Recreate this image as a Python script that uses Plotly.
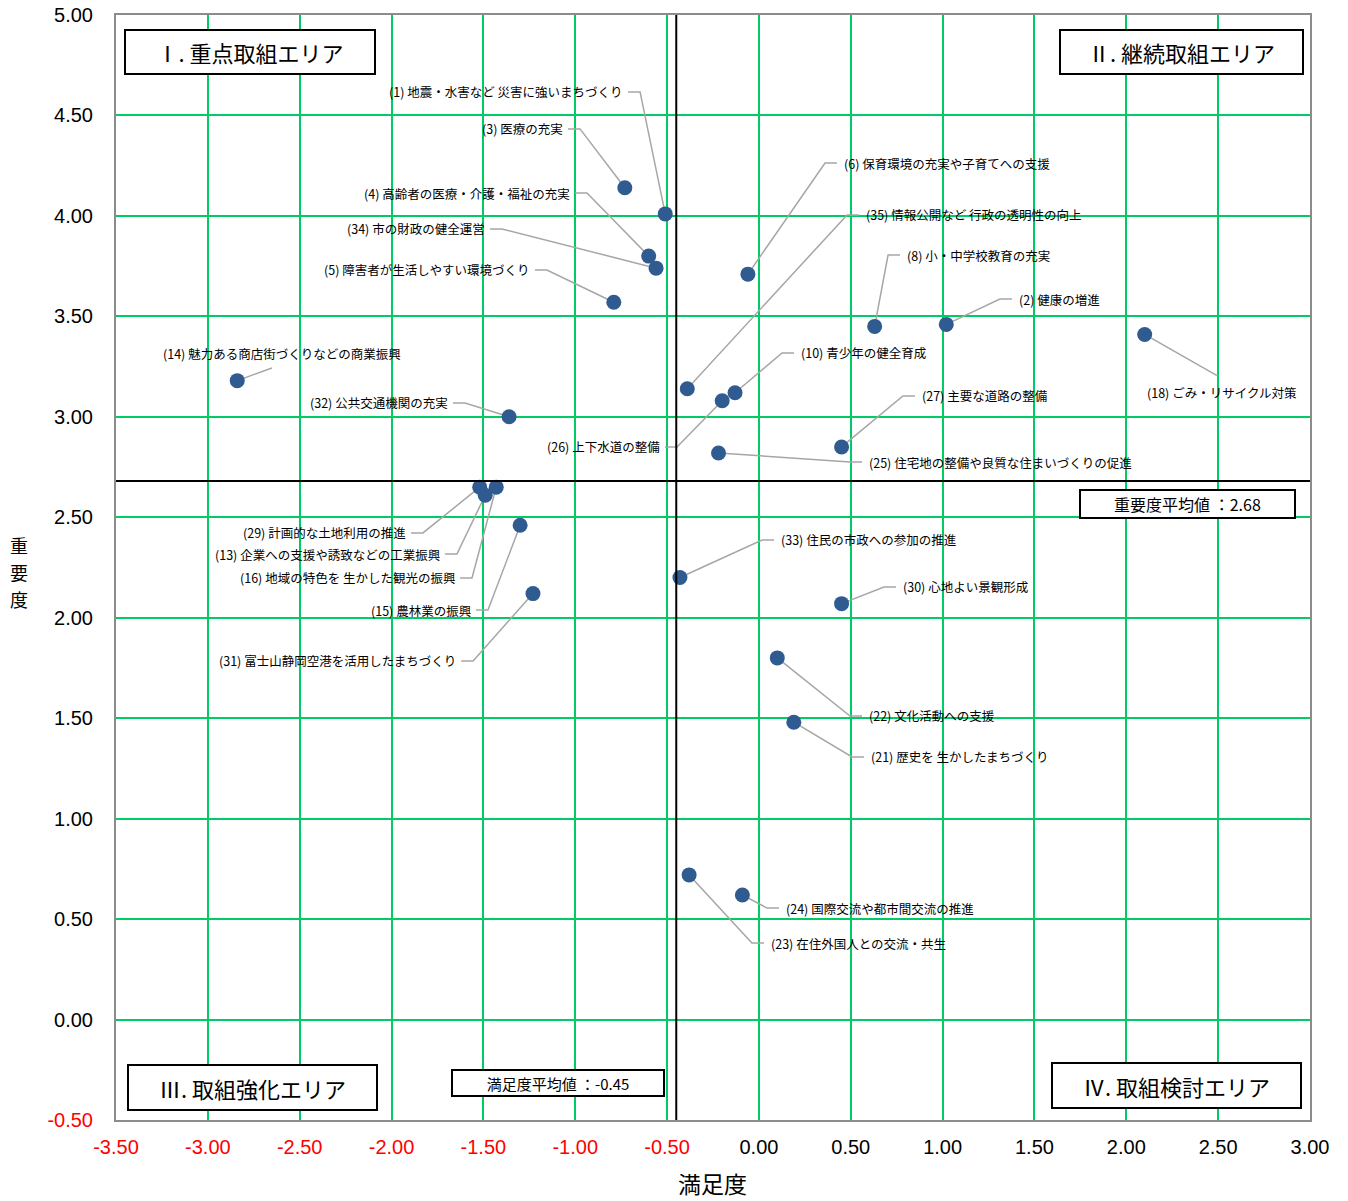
import plotly.graph_objects as go

# ---------------- data ----------------
item_labels = [
    "(1) 地震・水害など 災害に強いまちづくり",
    "(2) 健康の増進",
    "(3) 医療の充実",
    "(4) 高齢者の医療・介護・福祉の充実",
    "(5) 障害者が生活しやすい環境づくり",
    "(6) 保育環境の充実や子育てへの支援",
    "(8) 小・中学校教育の充実",
    "(10) 青少年の健全育成",
    "(13) 企業への支援や誘致などの工業振興",
    "(14) 魅力ある商店街づくりなどの商業振興",
    "(15) 農林業の振興",
    "(16) 地域の特色を 生かした観光の振興",
    "(18) ごみ・リサイクル対策",
    "(21) 歴史を 生かしたまちづくり",
    "(22) 文化活動への支援",
    "(23) 在住外国人との交流・共生",
    "(24) 国際交流や都市間交流の推進",
    "(25) 住宅地の整備や良質な住まいづくりの促進",
    "(26) 上下水道の整備",
    "(27) 主要な道路の整備",
    "(29) 計画的な土地利用の推進",
    "(30) 心地よい景観形成",
    "(31) 富士山静岡空港を活用したまちづくり",
    "(32) 公共交通機関の充実",
    "(33) 住民の市政への参加の推進",
    "(34) 市の財政の健全運営",
    "(35) 情報公開など 行政の透明性の向上",
]
satisfaction = [-0.51, 1.02, -0.73, -0.60, -0.79, -0.06, 0.63, -0.13, -1.49, -2.84,
                -1.30, -1.43, 2.10, 0.19, 0.10, -0.38, -0.09, -0.22, -0.20, 0.45,
                -1.52, 0.45, -1.23, -1.36, -0.43, -0.56, -0.39]
importance = [4.01, 3.46, 4.14, 3.80, 3.57, 3.71, 3.45, 3.12, 2.61, 3.18,
              2.46, 2.65, 3.41, 1.48, 1.80, 0.72, 0.62, 2.82, 3.08, 2.85,
              2.65, 2.07, 2.12, 3.00, 2.20, 3.74, 3.14]

# label placement (leader-line elbow, in axis units) and which side the text sits on
label_side = ["L", "R", "L", "L", "L", "R", "R", "R", "L", "T",
              "L", "L", "B", "R", "R", "R", "R", "R", "L", "R",
              "L", "R", "L", "L", "R", "L", "R"]
elbow_x = [-0.647, 1.312, -0.974, -0.936, -1.154, 0.360, 0.703, 0.126, -1.644, -2.651,
           -1.475, -1.562, 2.499, 0.507, 0.496, -0.038, 0.044, 0.496, -0.446, 0.784,
           -1.829, 0.681, -1.556, -1.600, 0.017, -1.399, 0.480]
elbow_y = [4.617, 3.586, 4.433, 4.114, 3.731, 4.263, 3.805, 3.318, 2.317, 3.243,
           2.038, 2.198, 3.203, 1.307, 1.511, 0.381, 0.555, 2.775, 2.850, 3.104,
           2.422, 2.153, 1.785, 3.069, 2.387, 3.935, 4.005]

mean_satisfaction = -0.45
mean_importance = 2.68

x_range = [-3.5, 3.0]
y_range = [-0.5, 5.0]
x_ticks = [-3.5, -3.0, -2.5, -2.0, -1.5, -1.0, -0.5, 0.0, 0.5, 1.0, 1.5, 2.0, 2.5, 3.0]
y_ticks = [-0.5, 0.0, 0.5, 1.0, 1.5, 2.0, 2.5, 3.0, 3.5, 4.0, 4.5, 5.0]

area_labels = ["Ⅰ. 重点取組エリア", "Ⅱ. 継続取組エリア", "Ⅲ. 取組強化エリア", "Ⅳ. 取組検討エリア"]
y_title = "重要度"
x_title = "満足度"

# ---------------- layout geometry ----------------
W, H = 1348, 1201
ML, MR, MT, MB = 116, 38, 15, 81
PW = W - ML - MR
PH = H - MT - MB
px_per_x = PW / (x_range[1] - x_range[0])
stub = 12 / px_per_x

FONT = "Noto Sans CJK JP, Noto Sans, sans-serif"
NUMFONT = "Liberation Sans, Arial, sans-serif"
GREEN = "#00cc66"

fig = go.Figure()

# leader lines
lx, ly = [], []
annotations = []
for i in range(len(item_labels)):
    px, py = satisfaction[i], importance[i]
    ex, ey = elbow_x[i], elbow_y[i]
    side = label_side[i]
    if side == "L":
        lx += [px, ex, ex - stub, None]
        ly += [py, ey, ey, None]
        annotations.append(dict(x=ex - stub, y=ey, text=item_labels[i], xanchor="right",
                                yanchor="middle", xshift=-3, showarrow=False))
    elif side == "R":
        lx += [px, ex, ex + stub, None]
        ly += [py, ey, ey, None]
        annotations.append(dict(x=ex + stub, y=ey, text=item_labels[i], xanchor="left",
                                yanchor="middle", xshift=5, showarrow=False))
    elif side == "T":
        lx += [px, ex, None]
        ly += [py, ey, None]
        annotations.append(dict(x=ex, y=ey, text=item_labels[i], xanchor="center",
                                yanchor="bottom", xshift=10, yshift=3, showarrow=False))
    else:  # "B"
        lx += [px, ex, None]
        ly += [py, ey, None]
        annotations.append(dict(x=ex, y=ey, text=item_labels[i], xanchor="center",
                                yanchor="top", xshift=4, yshift=-5, showarrow=False))

for a in annotations:
    a["font"] = dict(family=FONT, size=12.5, color="#000000")
    a["xref"] = "x"
    a["yref"] = "y"

fig.add_trace(go.Scatter(x=lx, y=ly, mode="lines",
                         line=dict(color="#a6a6a6", width=1.5),
                         hoverinfo="skip", showlegend=False))

fig.add_trace(go.Scatter(x=satisfaction, y=importance, mode="markers",
                         marker=dict(color="#2f5b91", size=15, line=dict(width=0)),
                         text=item_labels, hoverinfo="text", showlegend=False))

# mean lines
fig.add_shape(type="line", xref="x", yref="paper", x0=mean_satisfaction, x1=mean_satisfaction,
              y0=0, y1=1, line=dict(color="black", width=2))
fig.add_shape(type="line", xref="paper", yref="y", x0=0, x1=1, y0=mean_importance,
              y1=mean_importance, line=dict(color="black", width=2))


def px2paper_x(p):
    return (p - ML) / PW


def px2paper_y(p):
    return (H - MB - p) / PH


def box(text, x, y, xanchor, yanchor, w, h, size):
    return dict(xref="paper", yref="paper", x=px2paper_x(x), y=px2paper_y(y),
                xanchor=xanchor, yanchor=yanchor, text=text, showarrow=False,
                width=w, height=h, align="center", valign="middle",
                bgcolor="white", bordercolor="black", borderwidth=2, borderpad=1,
                font=dict(family=FONT, size=size, color="black"))


annotations.append(box(area_labels[0], 124, 29, "left", "top", 246, 40, 22))
annotations.append(box(area_labels[1], 1304, 29, "right", "top", 239, 40, 22))
annotations.append(box(area_labels[2], 127, 1111, "left", "bottom", 245, 41, 22))
annotations.append(box(area_labels[3], 1302, 1109, "right", "bottom", 245, 41, 22))
annotations.append(box(f"重要度平均値 ：{mean_importance:.2f}", 1296, 489, "right", "top", 211, 24, 16))
annotations.append(box(f"満足度平均値 ：{mean_satisfaction:.2f}", 451, 1069, "left", "top", 208, 22, 15))

# axis titles
annotations.append(dict(xref="paper", yref="paper", x=px2paper_x(712), y=px2paper_y(1183),
                        text=x_title, showarrow=False, xanchor="center", yanchor="middle",
                        font=dict(family=FONT, size=23, color="black")))
for k, ch in enumerate(y_title):
    annotations.append(dict(xref="paper", yref="paper", x=px2paper_x(19), y=px2paper_y(545 + 27 * k),
                            text=ch, showarrow=False, xanchor="center", yanchor="middle",
                            font=dict(family=FONT, size=18, color="black")))


def tick_text(v):
    s = f"{v:.2f}"
    if v < 0:
        return f"<span style='color:#ff0000'>{s}</span>"
    return s


fig.update_layout(
    width=W, height=H,
    margin=dict(l=ML, r=MR, t=MT, b=MB, pad=0, autoexpand=False),
    paper_bgcolor="white", plot_bgcolor="white",
    annotations=annotations,
    xaxis=dict(range=x_range, tickvals=x_ticks, ticktext=[tick_text(v) for v in x_ticks],
               showgrid=True, gridcolor=GREEN, gridwidth=2, zeroline=False, automargin=False,
               showline=True, linecolor="#8c8c8c", linewidth=2, mirror=True,
               ticks="outside", ticklen=8, tickcolor="rgba(0,0,0,0)",
               tickfont=dict(family=NUMFONT, size=20, color="black")),
    yaxis=dict(range=y_range, tickvals=y_ticks, ticktext=[tick_text(v) for v in y_ticks],
               showgrid=True, gridcolor=GREEN, gridwidth=2, zeroline=False, automargin=False,
               showline=True, linecolor="#8c8c8c", linewidth=2, mirror=True,
               ticks="outside", ticklen=17, tickcolor="rgba(0,0,0,0)",
               tickfont=dict(family=NUMFONT, size=20, color="black")),
)

fig.write_html("out.html", config={"displayModeBar": False},
               post_script="document.body.style.margin='0px';")
